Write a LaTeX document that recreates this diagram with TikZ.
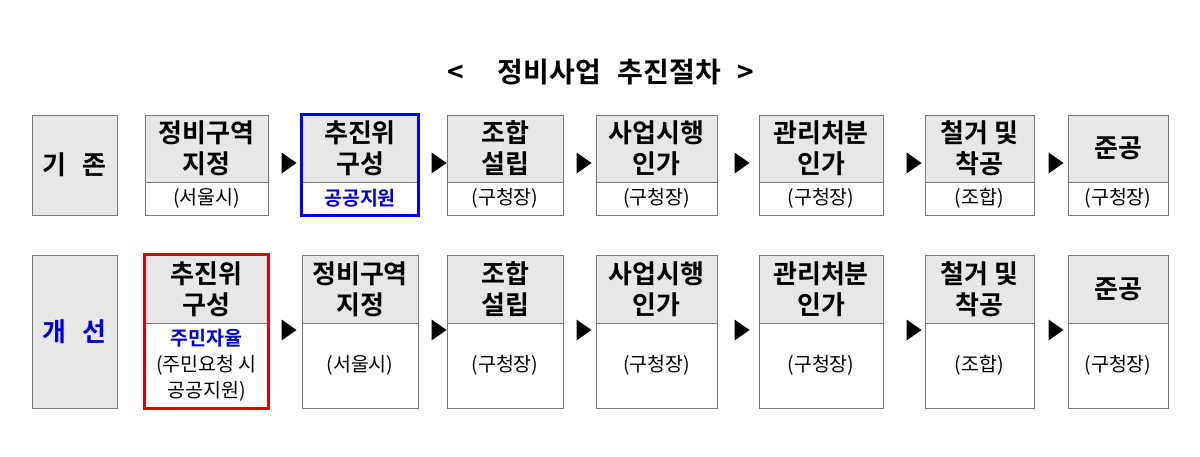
\documentclass[tikz,border=0pt]{standalone}
\usepackage{fontspec}
\usetikzlibrary{shapes.geometric}
\setmainfont{Noto Sans CJK KR}
\newfontfamily\kb{Noto Sans CJK KR Bold}
\definecolor{gr}{RGB}{231,231,231}
\definecolor{bd}{RGB}{120,120,120}
\tikzset{
 top/.style={draw=bd,fill=gr,line width=0.8pt,inner sep=0pt,align=center,font=\kb\fontsize{26}{31}\selectfont},
 bot/.style={draw=bd,fill=white,line width=0.8pt,inner sep=0pt,align=center,font=\fontsize{19.5}{26}\selectfont},
 tri/.style={fill=black,draw=none,isosceles triangle,isosceles triangle apex angle=70,minimum height=15pt,inner sep=0pt}
}
\newcommand\mybox[9]{% name x1 x2 ytop ymid ybot top bottom rowname
 \node[top,minimum width=#3-#2,minimum height=#5-#4] (#1t) at ({(#2+#3)/2},{(#4+#5)/2}) {#7};
 \node[bot,minimum width=#3-#2,minimum height=#6-#5] (#1b) at ({(#2+#3)/2},{(#5+#6)/2}) {#8};
 \draw[densely dotted,bd,line width=0.6pt] (#1t.south west) -- (#1t.south east);
}
\begin{document}
\begin{tikzpicture}[x=1pt,y=-1pt]
\useasboundingbox (0,0) rectangle (1200,456);
\node[font=\kb\fontsize{28}{32}\selectfont] (title) at (601,72) {<\hspace{1.2em}정비사업\hspace{0.6em}추진절차\hspace{0.6em}>};
% row labels
\node[top,minimum width=85,minimum height=100] (r1) at (74.5,165) {기\hspace{0.6em}존};
\node[top,minimum width=85,minimum height=153,text=blue!85!black] (r2) at (74.5,331.5) {개\hspace{0.6em}선};
% row 1
\mybox{a1}{145}{268}{115}{182}{215}{정비구역\\지정}{(서울시)}{}
\mybox{a2}{302}{418}{115}{182}{215}{추진위\\구성}{\textcolor{blue!85!black}{\kb 공공지원}}{}
\mybox{a3}{447}{563}{115}{182}{215}{조합\\설립}{(구청장)}{}
\mybox{a4}{596}{717}{115}{182}{215}{사업시행\\인가}{(구청장)}{}
\mybox{a5}{759}{883}{115}{182}{215}{관리처분\\인가}{(구청장)}{}
\mybox{a6}{925}{1034}{115}{182}{215}{철거 및\\착공}{(조합)}{}
\mybox{a7}{1068}{1168}{115}{182}{215}{준공}{(구청장)}{}
\draw[blue,line width=2.5pt] (a2t.north west) rectangle (a2b.south east);
% row 2
\mybox{b1}{145}{268}{255}{323}{408}{추진위\\구성}{\textcolor{blue!85!black}{\kb 주민자율}\\(주민요청 시\\공공지원)}{}
\mybox{b2}{302}{418}{255}{323}{408}{정비구역\\지정}{(서울시)}{}
\mybox{b3}{447}{563}{255}{323}{408}{조합\\설립}{(구청장)}{}
\mybox{b4}{596}{717}{255}{323}{408}{사업시행\\인가}{(구청장)}{}
\mybox{b5}{759}{883}{255}{323}{408}{관리처분\\인가}{(구청장)}{}
\mybox{b6}{925}{1034}{255}{323}{408}{철거 및\\착공}{(조합)}{}
\mybox{b7}{1068}{1168}{255}{323}{408}{준공}{(구청장)}{}
\draw[red!90!black,line width=2.5pt] (b1t.north west) rectangle (b1b.south east);
% arrows
\foreach \p/\q/\x in {1/2/287,2/3/437,3/4/582,4/5/740,5/6/912,6/7/1054}{
 \node[tri] (ta\p) at (\x,163) {};
 \node[tri] (tb\p) at (\x,330) {};
}
\end{tikzpicture}
\end{document}
